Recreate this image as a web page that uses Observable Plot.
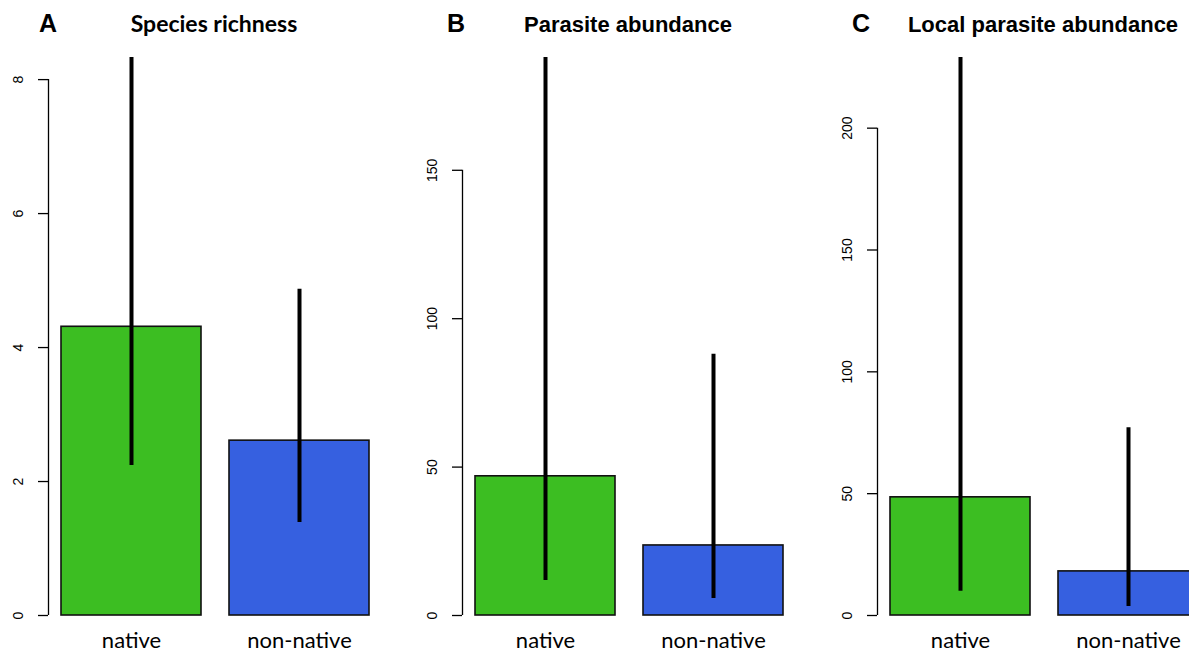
<!DOCTYPE html>
<html>
<head>
<meta charset="utf-8">
<script src="https://cdn.jsdelivr.net/npm/d3@7"></script>
<script src="https://cdn.jsdelivr.net/npm/@observablehq/plot@0.6"></script>
<style>
  html, body { margin: 0; padding: 0; background: #fff; }
  body { width: 1189px; height: 655px; overflow: hidden; position: relative; }
  .panel { position: absolute; top: 0; width: 415px; height: 655px; }
  .panel svg { position: absolute; top: 40px; left: 0; }
  .letter { position: absolute; top: 11px; font: bold 25px "Liberation Sans", Arial, sans-serif; line-height: 25px; color: #000; }
  .title { position: absolute; top: 14px; font: bold 22px "Liberation Sans", Arial, sans-serif; line-height: 22px; color: #000; white-space: nowrap; transform: translateX(-50%); }
  .title.calibri { font-family: Lato, "Noto Sans", sans-serif; font-size: 23px; top: 12px; }
</style>
</head>
<body>
<script>
// ---- data ----
const categories = ["native", "non-native"];
const groupColors = ["#3cbe22", "#3660e0"];

const richnessMean  = [4.31, 2.61];
const richnessLower = [2.24, 1.39];
const richnessUpper = [8.9, 4.87];
const richnessTicks = [0, 2, 4, 6, 8];

const abundanceMean  = [46.9, 23.6];
const abundanceLower = [11.8, 5.7];
const abundanceUpper = [200, 88];
const abundanceTicks = [0, 50, 100, 150];

const localMean  = [48.5, 18.1];
const localLower = [10.0, 3.7];
const localUpper = [240, 77.1];
const localTicks = [0, 50, 100, 150, 200];

const titles = ["Species richness", "Parasite abundance", "Local parasite abundance"];
const panelLetters = ["A", "B", "C"];

// ---- layout ----
const panelOffsets = [0, 414, 829];
const letterOffsets = [39, 447, 852];
const yMax = [8.33, 188, 229];
const W = 415, H = 615;
const mLeft = 61, mRight = 46, mTop = 17, mBottom = 40;
const axisGap = 13;

const panels = [
  {mean: richnessMean, lower: richnessLower, upper: richnessUpper, ticks: richnessTicks},
  {mean: abundanceMean, lower: abundanceLower, upper: abundanceUpper, ticks: abundanceTicks},
  {mean: localMean, lower: localLower, upper: localUpper, ticks: localTicks}
];

panels.forEach((p, k) => {
  const rows = categories.map((c, i) => ({cat: c, mean: p.mean[i], lo: p.lower[i], hi: p.upper[i]}));
  const frameCenter = mLeft + (W - mLeft - mRight) / 2;
  const chart = Plot.plot({
    width: W,
    height: H,
    marginLeft: mLeft,
    marginRight: mRight,
    marginTop: mTop,
    marginBottom: mBottom,
    style: {background: "transparent", overflow: "visible"},
    x: {domain: categories, paddingInner: 28 / 168, paddingOuter: 0, axis: null},
    y: {domain: [0, yMax[k]], axis: null},
    color: {domain: categories, range: groupColors},
    marks: [
      Plot.barY(rows, {x: "cat", y: "mean", fill: "cat", stroke: "#111", strokeWidth: 1.6}),
      Plot.ruleX(rows, {x: "cat", y1: "lo", y2: "hi", stroke: "#000", strokeWidth: 4, clip: true}),
      Plot.ruleX([p.ticks], {x: null, y1: (d) => d3.min(d), y2: (d) => d3.max(d), dx: mLeft - axisGap - frameCenter, stroke: "#000", strokeWidth: 1.3}),
      Plot.axisY({
        ticks: p.ticks, tickSize: 10, dx: -axisGap, label: null, text: null,
        stroke: "#000", strokeWidth: 1.3
      }),
      Plot.text(p.ticks, {
        y: (d) => d, text: (d) => String(d), frameAnchor: "left", dx: -axisGap - 10 - 16,
        rotate: -90, textAnchor: "middle", lineAnchor: "bottom",
        fontSize: 14, fontFamily: "Liberation Sans, Arial, sans-serif", fill: "#000"
      }),
      Plot.axisX({
        tickSize: 0, tickPadding: 17, label: null, fontSize: 22, fontFamily: "Lato, 'Noto Sans', sans-serif", fill: "#000"
      })
    ]
  });
  const div = document.createElement("div");
  div.className = "panel";
  div.style.left = panelOffsets[k] + "px";
  div.appendChild(chart);
  document.body.appendChild(div);

  const t = document.createElement("div");
  t.className = "title" + (k === 0 ? " calibri" : "");
  t.textContent = titles[k];
  t.style.left = (panelOffsets[k] + frameCenter - 1) + "px";
  document.body.appendChild(t);

  const l = document.createElement("div");
  l.className = "letter";
  l.textContent = panelLetters[k];
  l.style.left = letterOffsets[k] + "px";
  document.body.appendChild(l);
});
</script>
</body>
</html>
